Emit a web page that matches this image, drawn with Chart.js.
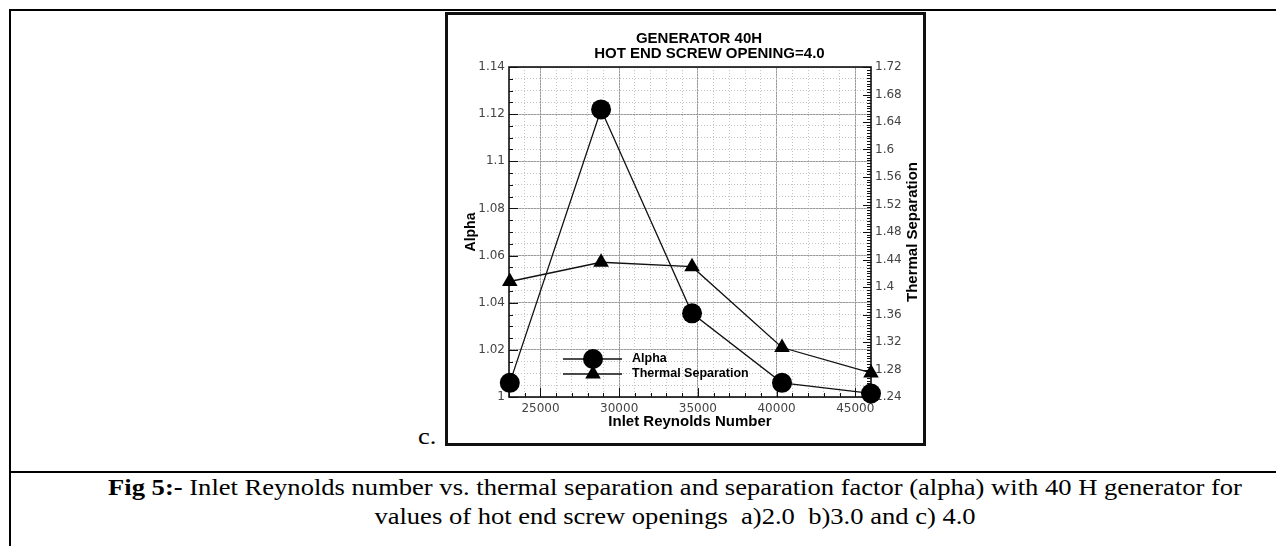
<!DOCTYPE html>
<html>
<head>
<meta charset="utf-8">
<script src="https://cdn.jsdelivr.net/npm/chart.js@4/dist/chart.umd.min.js"></script>
<style>
body { margin:0; background:#fff; width:1276px; height:546px; overflow:hidden; position:relative; }
.rule { position:absolute; background:#000; }
#box { position:absolute; left:445px; top:12px; width:475px; height:428px; border:3px solid #111; }
#chart { position:absolute; left:448px; top:16px; }
.serif { position:absolute; font-family:"Liberation Serif","Times New Roman",serif; font-size:23px; color:#000; white-space:pre; }
#letter { left:418px; top:424px; transform:scaleX(1.15); transform-origin:left center; }
.cap { left:75px; width:1200px; text-align:center; transform:scaleX(1.155); transform-origin:center; }
</style>
</head>
<body>
<div class="rule" style="left:9px;top:9px;width:1267px;height:2px"></div>
<div class="rule" style="left:9px;top:9px;width:2px;height:537px"></div>
<div class="rule" style="left:9px;top:471px;width:1267px;height:2px"></div>
<div id="box"></div>
<canvas id="chart" width="502" height="427"></canvas>
<div class="serif" id="letter">c.</div>
<div class="serif cap" style="top:475px"><b>Fig 5:-</b> Inlet Reynolds number vs. thermal separation and separation factor (alpha) with 40 H generator for</div>
<div class="serif cap" style="top:504px">values of hot end screw openings  a)2.0  b)3.0 and c) 4.0</div>
<script>
// =========================
// DATA
// =========================

const reynolds = [23050, 28850, 34630, 40345, 46000];
const alpha = [1.006, 1.122, 1.0355, 1.006, 1.0015];
const thermalSep = [1.408, 1.436, 1.4295, 1.312, 1.275];

const xTicks = [25000, 30000, 35000, 40000, 45000];
const alphaTicks = [1, 1.02, 1.04, 1.06, 1.08, 1.1, 1.12, 1.14];
const sepTicks = [1.24, 1.28, 1.32, 1.36, 1.4, 1.44, 1.48, 1.52, 1.56, 1.6, 1.64, 1.68, 1.72];

const xMin = 23000, xMax = 46000;

const sans = "'Liberation Sans', Arial, sans-serif";
const tickFont = {family: "'DejaVu Sans', sans-serif", size: 12};
const trim = v => String(+(+v).toFixed(3));

// =========================
// FRAME, INSIDE TICKS, LEGEND
// =========================

function stepTicks(scale, step, majorStep, majorLen, draw) {
    const n = Math.round((scale.max - scale.min) / step);
    for (let i = 0; i <= n; i++) {
        const v = scale.min + i * step;
        const r = v / majorStep;
        const major = Math.abs(r - Math.round(r)) < 1e-6;
        draw(Math.round(scale.getPixelForValue(v)) + 0.5, major ? majorLen : 4);
    }
}

const decor = {
    id: "decor",
    beforeDatasetsDraw(chart) {
        const {ctx, chartArea: a, scales} = chart;
        ctx.save();
        ctx.strokeStyle = "#111";
        ctx.lineWidth = 1;
        ctx.beginPath();
        stepTicks(scales.x, 1000, 5000, 9, (p, len) => {
            ctx.moveTo(p, a.bottom); ctx.lineTo(p, a.bottom - len);
        });
        stepTicks(scales.y, 0.005, 0.02, 9, (p, len) => {
            ctx.moveTo(a.left, p); ctx.lineTo(a.left + len, p);
        });
        stepTicks(scales.ySep, 0.004, 0.04, 8, (p, len) => {
            ctx.moveTo(a.right, p); ctx.lineTo(a.right - len, p);
        });
        ctx.stroke();
        ctx.lineWidth = 1.6;
        ctx.strokeRect(a.left, a.top, a.right - a.left, a.bottom - a.top);
        ctx.restore();
    },
    afterDraw(chart) {
        const {ctx, chartArea: a} = chart;
        ctx.save();
        ctx.font = "bold 12.5px " + sans;
        ctx.textBaseline = "middle";
        ctx.textAlign = "left";
        chart.data.datasets.forEach((ds, i) => {
            const y = a.bottom - 38 + i * 15;
            ctx.strokeStyle = "#111";
            ctx.lineWidth = 1.4;
            ctx.beginPath();
            ctx.moveTo(a.left + 54, y);
            ctx.lineTo(a.left + 113, y);
            ctx.stroke();
            ctx.fillStyle = "#000";
            Chart.helpers.drawPoint(ctx, {
                pointStyle: ds.pointStyle, radius: ds.pointRadius,
                rotation: 0, borderWidth: 0
            }, a.left + 84, y);
            ctx.fillText(ds.label, a.left + 123, y);
        });

        // right axis title reads bottom to top
        const s = chart.scales.ySep;
        ctx.font = "bold 15px " + sans;
        ctx.textAlign = "center";
        ctx.translate(s.left + 42, (a.top + a.bottom) / 2);
        ctx.rotate(-Math.PI / 2);
        ctx.fillText("Thermal Separation", 0, 0);
        ctx.restore();
    }
};

// =========================
// CHART
// =========================

new Chart(document.getElementById("chart"), {

    type: "line",

    data: {
        datasets: [{
            label: "Alpha",
            data: reynolds.map((x, i) => ({x: x, y: alpha[i]})),
            yAxisID: "y",
            borderColor: "#111",
            backgroundColor: "#000",
            borderWidth: 1.3,
            pointStyle: "circle",
            pointRadius: 10,
            pointHoverRadius: 10,
            pointBorderWidth: 0,
            clip: false
        }, {
            label: "Thermal Separation",
            data: reynolds.map((x, i) => ({x: x, y: thermalSep[i]})),
            yAxisID: "ySep",
            borderColor: "#111",
            backgroundColor: "#000",
            borderWidth: 1.3,
            pointStyle: "triangle",
            pointRadius: 9,
            pointHoverRadius: 9,
            pointBorderWidth: 0,
            clip: false
        }]
    },

    options: {
        responsive: false,
        animation: false,
        devicePixelRatio: 1,
        layout: {padding: 0},

        plugins: {
            legend: {display: false},
            tooltip: {enabled: false},
            title: {
                display: true,
                text: ["GENERATOR 40H", "     HOT END SCREW OPENING=4.0"],
                color: "#000",
                font: {family: sans, size: 15, weight: "bold", lineHeight: 1},
                padding: {top: 15.5, bottom: 5.5}
            }
        },

        scales: {
            x: {
                type: "linear",
                position: "bottom",
                min: xMin,
                max: xMax,
                afterBuildTicks: s => { s.ticks = xTicks.map(v => ({value: v})); },
                afterFit: s => { s.height = 46; },
                ticks: {font: tickFont, color: "#444", padding: 5, maxRotation: 0, callback: v => String(v)},
                grid: {color: "#9a9a9a", lineWidth: 1, drawTicks: false},
                border: {display: false},
                title: {
                    display: true,
                    text: "Inlet Reynolds Number",
                    color: "#000",
                    font: {family: sans, size: 15, weight: "bold"},
                    padding: {top: 0, bottom: 12}
                }
            },
            xMinor: {
                type: "linear",
                position: "bottom",
                min: xMin,
                max: xMax,
                afterFit: s => { s.height = 0; },
                ticks: {display: false, stepSize: 1000},
                grid: {color: "#c4c4c4", lineWidth: 1, drawTicks: false, borderDash: [1, 2]},
                border: {display: false, dash: [1, 2]}
            },
            y: {
                type: "linear",
                position: "left",
                min: 1,
                max: 1.14,
                afterBuildTicks: s => { s.ticks = alphaTicks.map(v => ({value: v})); },
                afterFit: s => { s.width = 61; },
                ticks: {font: tickFont, color: "#444", padding: 4, callback: trim},
                grid: {color: "#9a9a9a", lineWidth: 1, drawTicks: false},
                border: {display: false},
                title: {
                    display: true,
                    text: "Alpha",
                    color: "#000",
                    font: {family: sans, size: 14, weight: "bold"},
                    padding: {top: 15, bottom: 0}
                }
            },
            yMinor: {
                type: "linear",
                position: "left",
                min: 1,
                max: 1.14,
                afterFit: s => { s.width = 0; },
                ticks: {display: false, stepSize: 0.005},
                grid: {color: "#c4c4c4", lineWidth: 1, drawTicks: false, borderDash: [1, 2]},
                border: {display: false, dash: [1, 2]}
            },
            ySep: {
                type: "linear",
                position: "right",
                min: 1.24,
                max: 1.72,
                afterBuildTicks: s => { s.ticks = sepTicks.map(v => ({value: v})); },
                afterFit: s => { s.width = 79; },
                ticks: {font: tickFont, color: "#444", padding: 4, callback: trim},
                grid: {drawOnChartArea: false, drawTicks: false},
                border: {display: false}
            }
        }
    },

    plugins: [decor]
});
</script>
</body>
</html>
